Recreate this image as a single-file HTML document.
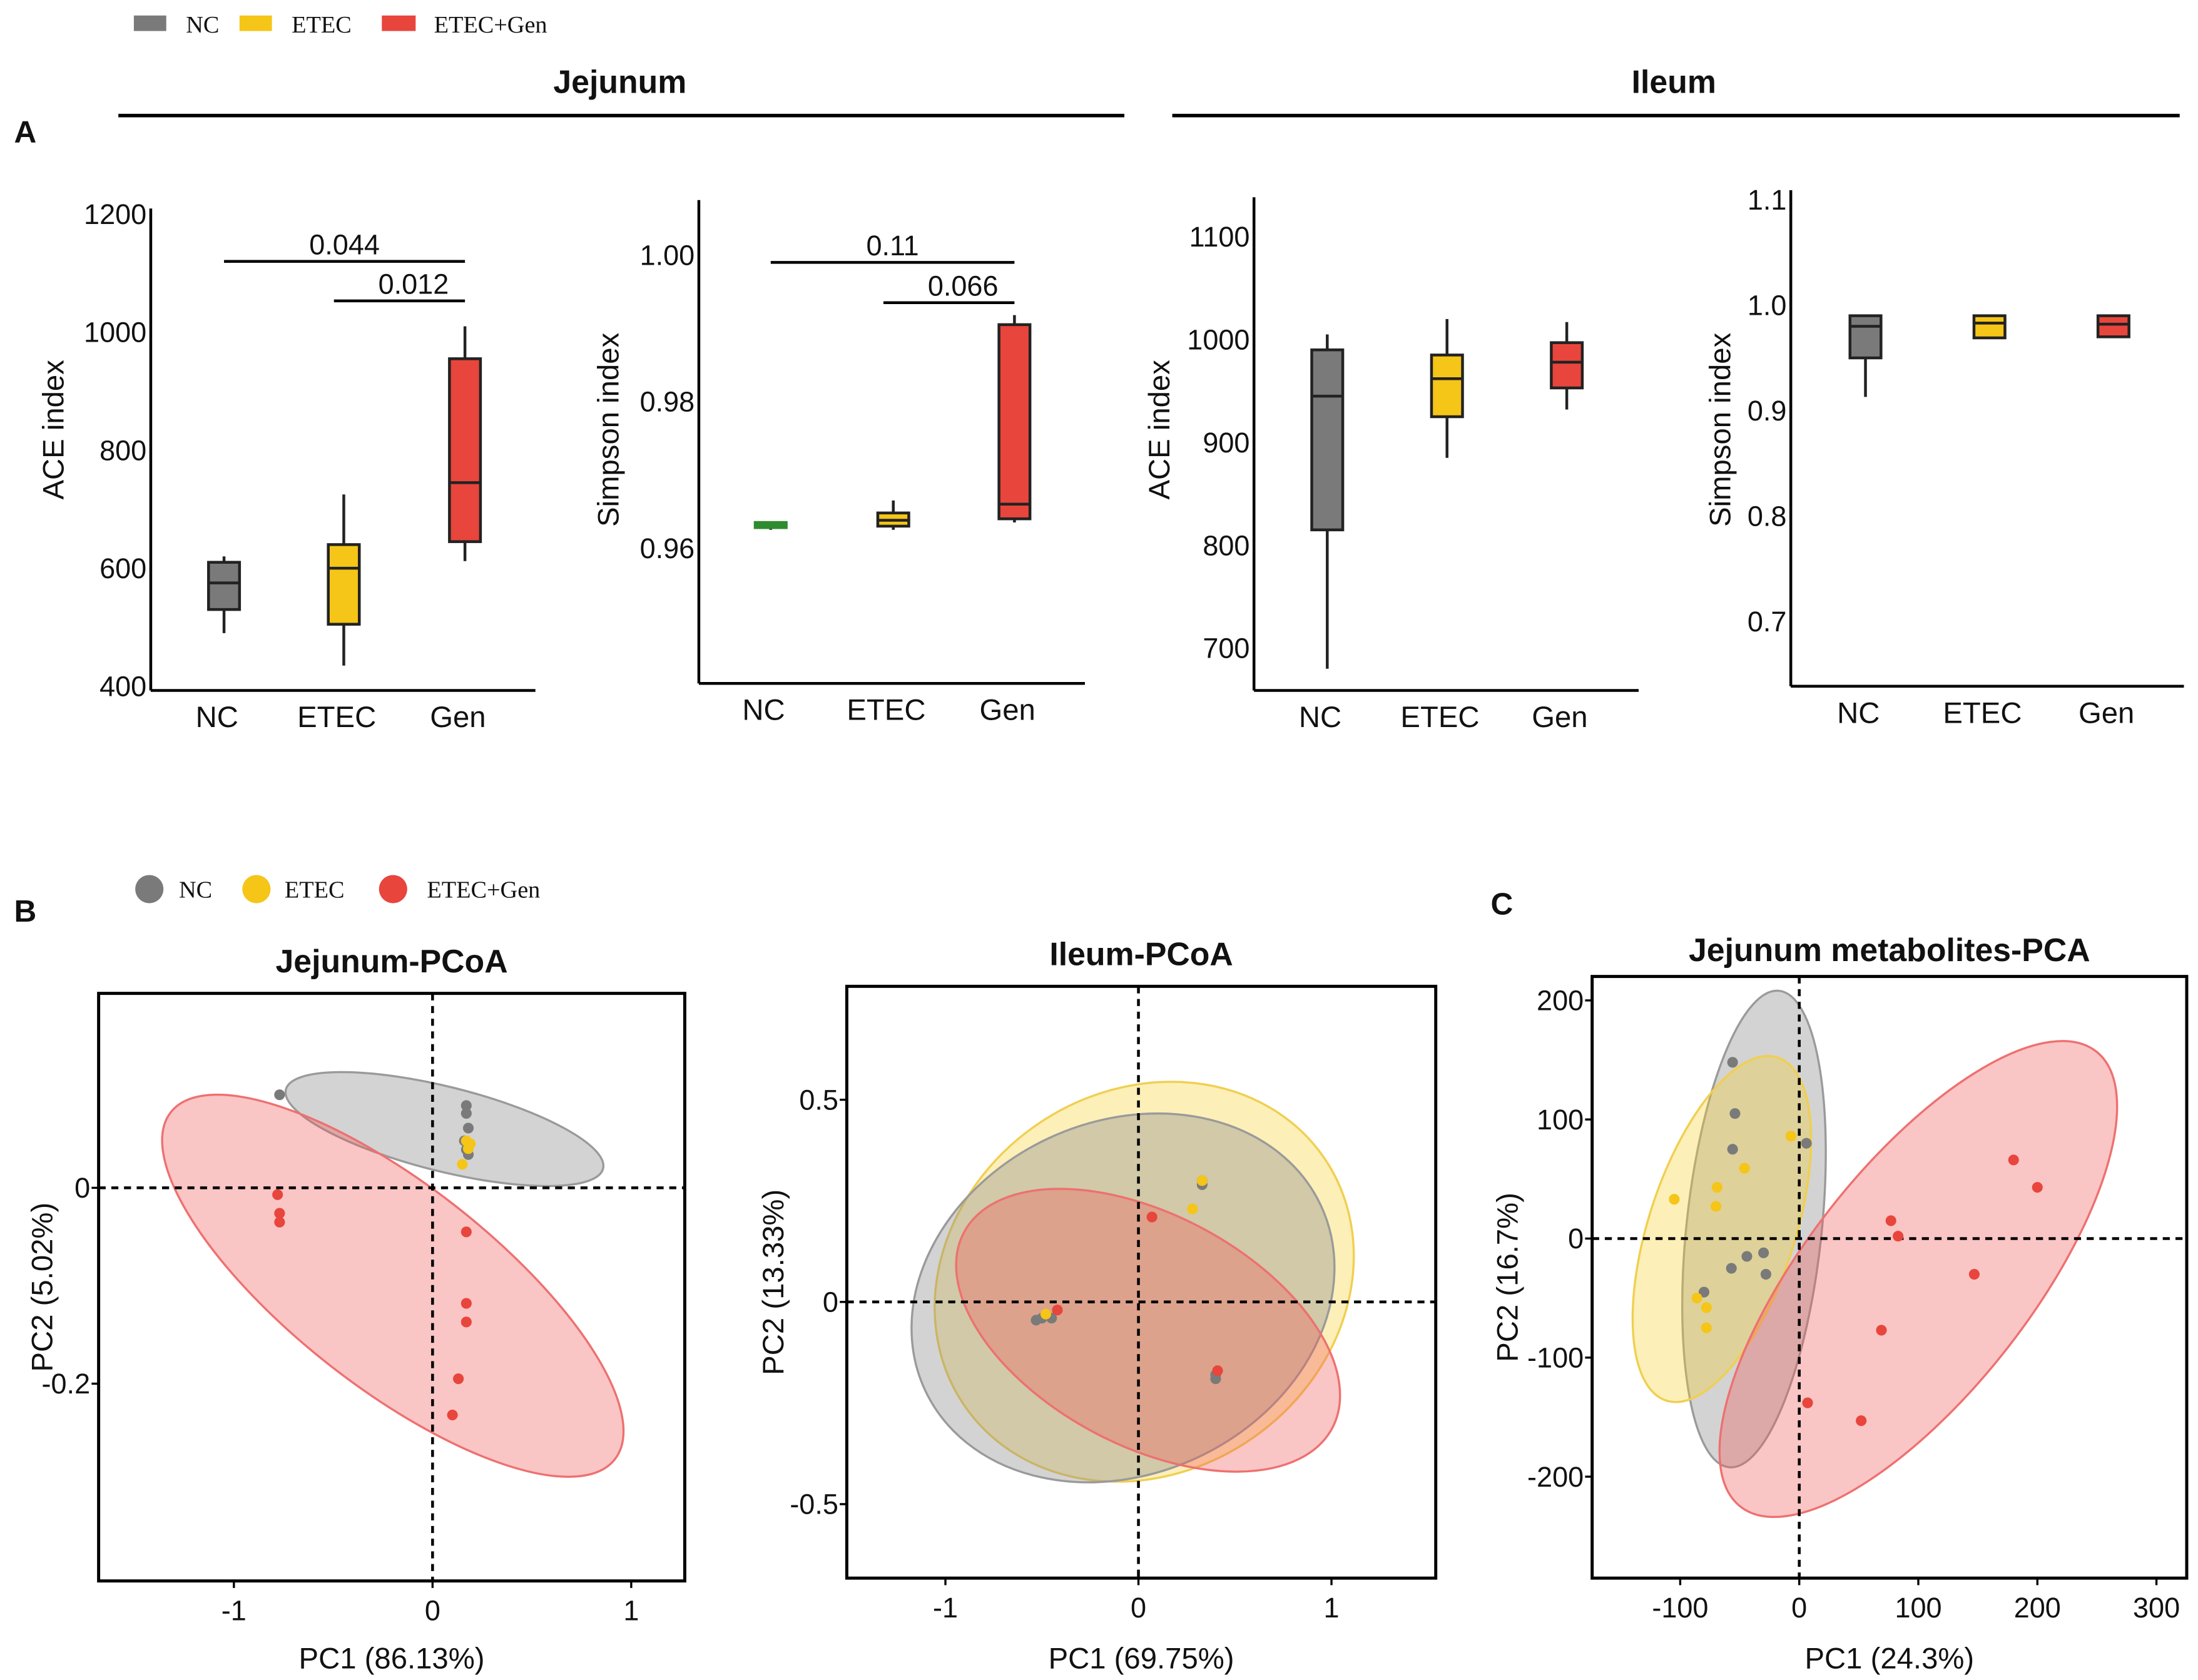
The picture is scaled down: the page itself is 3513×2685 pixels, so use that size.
<!DOCTYPE html>
<html><head><meta charset="utf-8">
<style>
html,body{margin:0;padding:0;background:#fff}
svg{display:block}
text{font-family:"Liberation Sans",sans-serif;fill:#111}
.serif{font-family:"Liberation Serif",serif}
</style></head>
<body>
<svg id="fig" width="3513" height="2685" viewBox="0 0 1560 1192.3" xmlns="http://www.w3.org/2000/svg">
<g>
<rect x="95" y="11" width="23" height="11" fill="#7a7a7a"/>
<text x="132" y="23" font-size="17" class="serif">NC</text>
<rect x="170" y="11" width="23" height="11" fill="#f5c518"/>
<text x="207" y="23" font-size="17" class="serif">ETEC</text>
<rect x="271" y="11" width="24" height="11" fill="#e8453c"/>
<text x="308" y="23" font-size="17" class="serif">ETEC+Gen</text>
</g>
<text x="440" y="66" font-size="23" font-weight="bold" text-anchor="middle">Jejunum</text>
<line x1="84" y1="82" x2="798" y2="82" stroke="#000" stroke-width="2.5"/>
<text x="1188" y="66" font-size="23" font-weight="bold" text-anchor="middle">Ileum</text>
<line x1="832" y1="82" x2="1547" y2="82" stroke="#000" stroke-width="2.5"/>
<text x="10" y="101" font-size="22" font-weight="bold">A</text>
<text x="10" y="654" font-size="22" font-weight="bold">B</text>
<text x="1058" y="649" font-size="22" font-weight="bold">C</text>
<g>
<circle cx="106" cy="631" r="10" fill="#7a7a7a"/>
<text x="127" y="637" font-size="17" class="serif">NC</text>
<circle cx="182" cy="631" r="10" fill="#f5c518"/>
<text x="202" y="637" font-size="17" class="serif">ETEC</text>
<circle cx="279" cy="631" r="10" fill="#e8453c"/>
<text x="303" y="637" font-size="17" class="serif">ETEC+Gen</text>
</g>
</svg>
<script>
// ---------- data ----------
const boxCats = ["NC","ETEC","Gen"];
const jejAceStats = [[490,530,575,610,620],[435,505,600,640,725],[612,645,745,955,1010]];
const jejAceTicks = [400,600,800,1000,1200];
const jejSimStats = [[0.9625,0.9628,0.9631,0.9635,0.9636],[0.9625,0.9630,0.9638,0.9648,0.9665],[0.9635,0.9640,0.9660,0.9905,0.9918]];
const jejSimTicks = [0.96,0.98,1.00];
const ileAceStats = [[680,815,945,990,1005],[885,925,962,985,1020],[932,953,978,997,1017]];
const ileAceTicks = [700,800,900,1000,1100];
const ileSimStats = [[0.913,0.95,0.98,0.99,0.99],[0.969,0.969,0.983,0.99,0.99],[0.970,0.970,0.982,0.99,0.99]];
const ileSimTicks = [0.7,0.8,0.9,1.0,1.1];
const jejAceSig = [["0.044",0,2,1120],["0.012",1,2,1053]];
const jejSimSig = [["0.11",0,2,0.999],["0.066",1,2,0.9935]];

const groups = ["NC","ETEC","ETEC+Gen"];
const jpGrayX=[-0.77,0.17,0.17,0.18,0.16,0.17,0.18], jpGrayY=[0.095,0.084,0.076,0.061,0.048,0.039,0.034];
const jpYelX=[0.17,0.18,0.15,0.19], jpYelY=[0.048,0.040,0.024,0.045];
const jpRedX=[-0.78,-0.77,-0.77,0.17,0.17,0.17,0.13,0.10], jpRedY=[-0.007,-0.026,-0.035,-0.045,-0.118,-0.137,-0.195,-0.232];
const ipGrayX=[-0.5,-0.45,-0.53,0.33,0.33,0.40,0.40], ipGrayY=[-0.04,-0.04,-0.045,0.30,0.29,-0.19,-0.18];
const ipYelX=[0.28,0.33,-0.48], ipYelY=[0.23,0.30,-0.03];
const ipRedX=[0.07,-0.42,0.41], ipRedY=[0.21,-0.02,-0.17];
const mpGrayX=[-56,-54,-56,6,-44,-30,-57,-28,-80], mpGrayY=[148,105,75,80,-15,-12,-25,-30,-45];
const mpYelX=[-105,-69,-70,-46,-7,-86,-78,-78], mpYelY=[33,43,27,59,86,-50,-58,-75];
const mpRedX=[180,200,77,83,147,69,7,52], mpRedY=[66,43,15,2,-30,-77,-138,-153];
const jpTicksX=[-1,0,1], jpTicksY=[-0.2,0];
const ipTicksX=[-1,0,1], ipTicksY=[-0.5,0,0.5];
const mpTicksX=[-100,0,100,200,300], mpTicksY=[-200,-100,0,100,200];
const jpEllCx=[0.06,-0.2], jpEllCy=[0.06,-0.1];
const ipEllCx=[-0.08,0.03,0.05], ipEllCy=[0.01,0.05,-0.07];
const mpEllCx=[-38,-65,100], mpEllCy=[8,8,-34];

// ---------- helpers ----------
const svg=document.getElementById('fig');
const NS="http://www.w3.org/2000/svg";
const COL={NC:"#7a7a7a",ETEC:"#f5c518",Gen:"#e8453c"};
function mk(tag,attrs,parent){const e=document.createElementNS(NS,tag);for(const k in attrs)e.setAttribute(k,attrs[k]);(parent||svg).appendChild(e);return e;}
function txt(s,attrs,parent){const e=mk('text',attrs,parent);e.textContent=s;return e;}

function boxPanel(o){
  const g=mk('g',{});
  
  
  const y=v=>o.y0px-(v-o.v0)*o.k;
  let el=mk('line',{x1:o.ax,y1:o.top,x2:o.ax,y2:o.base,stroke:"#000","stroke-width":2},g);
  
  
  el=mk('line',{x1:o.ax,y1:o.base,x2:o.right,y2:o.base,stroke:"#000","stroke-width":2},g);
  
  
  o.ticks.forEach(t=>{
    el=txt(o.fmt(t),{x:o.ax-3,y:y(t)+7,"font-size":20,"text-anchor":"end"},g);
    
    
  });
  el=txt(o.ylab,{x:0,y:0,"font-size":21,"text-anchor":"middle",transform:`translate(${o.ylx},305) rotate(-90)`},g);
  
  
  boxCats.forEach((c,i)=>{
    const cx=o.cx[i], s=o.stats[i], w=o.bw;
    el=txt(c,{x:cx-5,y:o.base+26,"font-size":21,"text-anchor":"middle"},g);
    
    
    el=mk('line',{x1:cx,y1:y(s[0]),x2:cx,y2:y(s[4]),stroke:"#222","stroke-width":2},g);
    
    
    const stroke=(o.ncGreen&&i===0)?"#2e8b2e":"#222";
    el=mk('rect',{x:cx-w/2,y:y(s[3]),width:w,height:Math.max(2,y(s[1])-y(s[3])),fill:COL[c],stroke:stroke,"stroke-width":2},g);
    
    
    el=mk('line',{x1:cx-w/2,y1:y(s[2]),x2:cx+w/2,y2:y(s[2]),stroke:stroke,"stroke-width":2},g);
    
    
  });
  (o.sig||[]).forEach(sg=>{
    const x1=o.cx[sg[1]]-(sg[1]===1?7:0), x2=o.cx[sg[2]], yy=y(sg[3]);
    el=mk('line',{x1:x1,y1:yy,x2:x2,y2:yy,stroke:"#000","stroke-width":2},g);
    
    
    el=txt(sg[0],{x:(x1+x2)/2+(sg[1]===1?10:0),y:yy-5,"font-size":20,"text-anchor":"middle"},g);
    
    
  });
}
boxPanel({name:'jejunum-ace-boxplot',ax:107,top:148,base:490,right:380,v0:400,y0px:487,k:335/800,ticks:jejAceTicks,fmt:t=>String(t),ylab:"ACE index",ylx:45,cx:[159,244,330],bw:22,stats:jejAceStats,sig:jejAceSig});
boxPanel({name:'jejunum-simpson-boxplot',ax:496,top:142,base:485,right:770,v0:0.96,y0px:389,k:104/0.02,ticks:jejSimTicks,fmt:t=>t.toFixed(2),ylab:"Simpson index",ylx:439,cx:[547,634,720],bw:22,stats:jejSimStats,sig:jejSimSig,ncGreen:true});
boxPanel({name:'ileum-ace-boxplot',ax:890,top:140,base:490,right:1163,v0:700,y0px:460,k:73/100,ticks:ileAceTicks,fmt:t=>String(t),ylab:"ACE index",ylx:830,cx:[942,1027,1112],bw:22,stats:ileAceStats});
boxPanel({name:'ileum-simpson-boxplot',ax:1271,top:135,base:487,right:1550,v0:0.7,y0px:441,k:74.8/0.1,ticks:ileSimTicks,fmt:t=>t.toFixed(1),ylab:"Simpson index",ylx:1228,cx:[1324,1412,1500],bw:22,stats:ileSimStats});

function scatterPanel(o){
  const g=mk('g',{});
  
  
  const X=v=>o.x0+v*o.kx, Y=v=>o.y0-v*o.ky;
  let el=txt(o.title,{x:(o.l+o.r)/2,y:o.ty,"font-size":23,"font-weight":"bold","text-anchor":"middle"},g);
  
  
  const fills={NC:["rgba(140,140,140,0.38)","#9a9a9a"],ETEC:["rgba(245,205,40,0.33)","#f0cf50"],Gen:["rgba(240,90,90,0.35)","#ee7070"]};
  o.ells.forEach(e=>{
    el=mk('ellipse',{cx:0,cy:0,rx:e.rx,ry:e.ry,fill:fills[e.g][0],stroke:fills[e.g][1],"stroke-width":1.5,transform:`translate(${X(e.cx)},${Y(e.cy)}) rotate(${e.rot})`},g);
    
    
  });
  el=mk('line',{x1:X(0),y1:o.t,x2:X(0),y2:o.b,stroke:"#000","stroke-width":2,"stroke-dasharray":"5,4"},g);
  
  
  el=mk('line',{x1:o.l,y1:Y(0),x2:o.r,y2:Y(0),stroke:"#000","stroke-width":2,"stroke-dasharray":"5,4"},g);
  
  
  o.series.forEach(s=>{
    s.xs.forEach((xv,i)=>{
      el=mk('circle',{cx:X(xv),cy:Y(s.ys[i]),r:3.8,fill:s.c},g);
      
      
    });
  });
  el=mk('rect',{x:o.l,y:o.t,width:o.r-o.l,height:o.b-o.t,fill:"none",stroke:"#000","stroke-width":2.2},g);
  
  
  o.tx.forEach(t=>{
    el=mk('line',{x1:X(t),y1:o.b,x2:X(t),y2:o.b+5,stroke:"#000","stroke-width":1.5},g);
    
    
    el=txt(String(t),{x:X(t),y:o.b+28,"font-size":20,"text-anchor":"middle"},g);
    
    
  });
  o.ty2.forEach(t=>{
    el=mk('line',{x1:o.l-5,y1:Y(t),x2:o.l,y2:Y(t),stroke:"#000","stroke-width":1.5},g);
    
    
    el=txt(String(t),{x:o.l-6,y:Y(t)+7,"font-size":20,"text-anchor":"end"},g);
    
    
  });
  el=txt(o.xlab,{x:(o.l+o.r)/2,y:1184,"font-size":21,"text-anchor":"middle"},g);
  
  
  el=txt(o.ylab,{x:0,y:0,"font-size":21,"text-anchor":"middle",transform:`translate(${o.ylx},${(o.t+o.b)/2}) rotate(-90)`},g);
  
  
}
scatterPanel({name:'jejunum-pcoa',title:"Jejunum-PCoA",ty:690,l:70,r:486,t:705,b:1122,x0:307,kx:141,y0:843,ky:695,
  tx:jpTicksX,ty2:jpTicksY,xlab:"PC1 (86.13%)",ylab:"PC2 (5.02%)",ylx:37,
  ells:[{g:"NC",cx:jpEllCx[0],cy:jpEllCy[0],rx:116,ry:30,rot:14},{g:"Gen",cx:jpEllCx[1],cy:jpEllCy[1],rx:200,ry:72,rot:38}],
  series:[{n:"nc",c:COL.NC,xs:jpGrayX,ys:jpGrayY},{n:"etec",c:COL.ETEC,xs:jpYelX,ys:jpYelY},{n:"etec-gen",c:COL.Gen,xs:jpRedX,ys:jpRedY}]});
scatterPanel({name:'ileum-pcoa',title:"Ileum-PCoA",ty:685,l:601,r:1019,t:700,b:1120,x0:808,kx:137,y0:924,ky:287,
  tx:ipTicksX,ty2:ipTicksY,xlab:"PC1 (69.75%)",ylab:"PC2 (13.33%)",ylx:556,
  ells:[{g:"ETEC",cx:ipEllCx[1],cy:ipEllCy[1],rx:155,ry:135,rot:-35},{g:"NC",cx:ipEllCx[0],cy:ipEllCy[0],rx:155,ry:125,rot:-25},{g:"Gen",cx:ipEllCx[2],cy:ipEllCy[2],rx:148,ry:82,rot:28}],
  series:[{n:"nc",c:COL.NC,xs:ipGrayX,ys:ipGrayY},{n:"etec",c:COL.ETEC,xs:ipYelX,ys:ipYelY},{n:"etec-gen",c:COL.Gen,xs:ipRedX,ys:ipRedY}]});
scatterPanel({name:'jejunum-metabolites-pca',title:"Jejunum metabolites-PCA",ty:682,l:1130,r:1552,t:693,b:1120,x0:1277,kx:0.845,y0:879,ky:0.845,
  tx:mpTicksX,ty2:mpTicksY,xlab:"PC1 (24.3%)",ylab:"PC2 (16.7%)",ylx:1077,
  ells:[{g:"NC",cx:mpEllCx[0],cy:mpEllCy[0],rx:48,ry:170,rot:6},{g:"ETEC",cx:mpEllCx[1],cy:mpEllCy[1],rx:52,ry:128,rot:18},{g:"Gen",cx:mpEllCx[2],cy:mpEllCy[2],rx:80,ry:205,rot:38}],
  series:[{n:"nc",c:COL.NC,xs:mpGrayX,ys:mpGrayY},{n:"etec",c:COL.ETEC,xs:mpYelX,ys:mpYelY},{n:"etec-gen",c:COL.Gen,xs:mpRedX,ys:mpRedY}]});
</script>
</body></html>
